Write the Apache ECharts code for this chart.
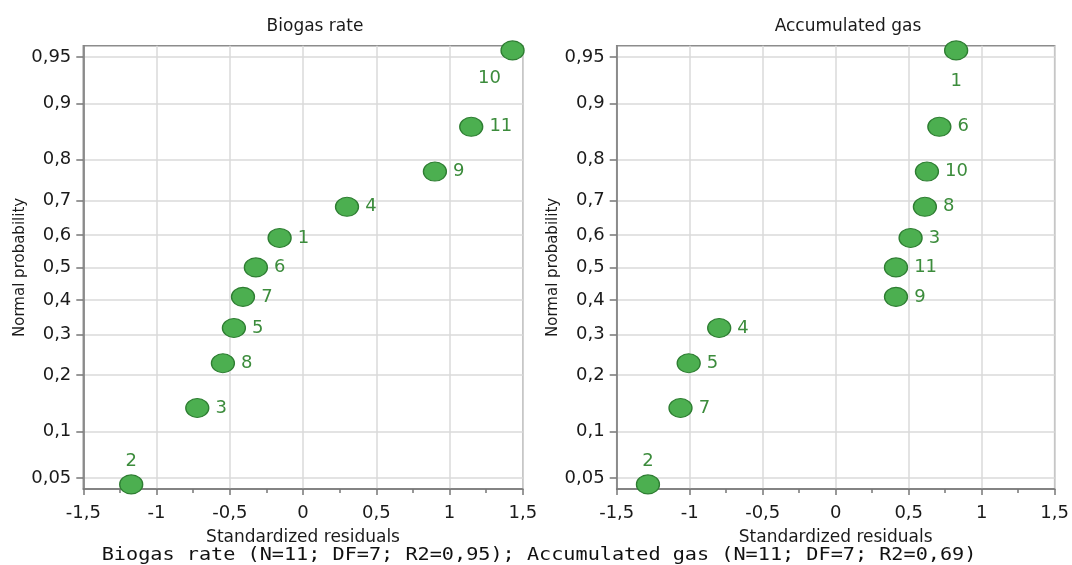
<!DOCTYPE html>
<html>
<head>
<meta charset="utf-8">
<script src="https://cdn.jsdelivr.net/npm/echarts@6/dist/echarts.min.js"></script>
<style>
html,body{margin:0;padding:0;background:#fff;}
#chart{width:1072px;height:565px;}
</style>
</head>
<body>
<div id="chart"></div>
<script>
// ---- data ----
const probs = [0.045, 0.136, 0.227, 0.318, 0.409, 0.5, 0.591, 0.682, 0.773, 0.864, 0.955];
const biogasResid = [-1.173, -0.722, -0.547, -0.472, -0.410, -0.322, -0.160, 0.300, 0.900, 1.148, 1.430];
const biogasIds = ['2', '3', '8', '5', '7', '6', '1', '4', '9', '11', '10'];
const accumResid = [-1.286, -1.063, -1.007, -0.798, 0.413, 0.413, 0.513, 0.611, 0.625, 0.710, 0.825];
const accumIds = ['2', '7', '5', '4', '9', '11', '3', '8', '10', '6', '1'];
const yTickProbs = [0.05, 0.1, 0.2, 0.3, 0.4, 0.5, 0.6, 0.7, 0.8, 0.9, 0.95];
const yTickLabels = ['0,05', '0,1', '0,2', '0,3', '0,4', '0,5', '0,6', '0,7', '0,8', '0,9', '0,95'];
const titles = ['Biogas rate', 'Accumulated gas'];
const xName = 'Standardized residuals';
const yName = 'Normal probability';
const footer = 'Biogas rate (N=11; DF=7; R2=0,95); Accumulated gas (N=11; DF=7; R2=0,69)';

// normal-probability (probit) scale transform
function probit(p) {
  const a = [-3.969683028665376e+01, 2.209460984245205e+02, -2.759285104469687e+02, 1.383577518672690e+02, -3.066479806614716e+01, 2.506628277459239e+00];
  const b = [-5.447609879822406e+01, 1.615858368580409e+02, -1.556989798598866e+02, 6.680131188771972e+01, -1.328068155288572e+01];
  const c = [-7.784894002430293e-03, -3.223964580411365e-01, -2.400758277161838e+00, -2.549671010139870e+00, 4.374664141464968e+00, 2.938163982698783e+00];
  const d = [7.784695709041462e-03, 3.224671290700398e-01, 2.445134137142996e+00, 3.754408661907416e+00];
  const plow = 0.02425, phigh = 1 - plow;
  let q, r;
  if (p < plow) {
    q = Math.sqrt(-2 * Math.log(p));
    return (((((c[0]*q+c[1])*q+c[2])*q+c[3])*q+c[4])*q+c[5]) / ((((d[0]*q+d[1])*q+d[2])*q+d[3])*q+1);
  } else if (p <= phigh) {
    q = p - 0.5; r = q * q;
    return (((((a[0]*r+a[1])*r+a[2])*r+a[3])*r+a[4])*r+a[5])*q / (((((b[0]*r+b[1])*r+b[2])*r+b[3])*r+b[4])*r+1);
  } else {
    q = Math.sqrt(-2 * Math.log(1 - p));
    return -(((((c[0]*q+c[1])*q+c[2])*q+c[3])*q+c[4])*q+c[5]) / ((((d[0]*q+d[1])*q+d[2])*q+d[3])*q+1);
  }
}

const yTickZ = yTickProbs.map(probit);
const YLIM = 1.732;
const FONT = '"DejaVu Sans", sans-serif';
const LABEL_GREEN = '#3c8c3c';
const TEXT = '#1a1a1a';

function labelFor(z) {
  let best = 0;
  for (let i = 1; i < yTickZ.length; i++) if (Math.abs(yTickZ[i] - z) < Math.abs(yTickZ[best] - z)) best = i;
  return yTickLabels[best];
}

function buildPoints(resid, ids, special) {
  return resid.map((x, i) => {
    const item = { value: [x, probit(probs[i])], name: ids[i] };
    if (special[i]) item.label = special[i];
    return item;
  });
}

const leftSpecial = {
  0: { position: 'top', distance: 4 },
  10: { position: 'bottom', distance: 9, offset: [-23, 0] }
};
const rightSpecial = {
  0: { position: 'top', distance: 4 },
  10: { position: 'bottom', distance: 12 }
};

const grids = [
  { left: 83.3, top: 45.7, width: 439.5, height: 443.4 },
  { left: 616.7, top: 45.7, width: 439.5, height: 443.4 }
];

function xAxis(idx) {
  return {
    type: 'value', gridIndex: idx, min: -1.5, max: 1.5, interval: 0.5,
    name: xName, nameLocation: 'middle', nameGap: 40,
    nameTextStyle: { fontFamily: FONT, fontSize: 17, color: TEXT },
    axisLine: { onZero: false, lineStyle: { color: '#777', width: 1.5 } },
    axisTick: { show: true, length: 6, lineStyle: { color: '#777', width: 1.5 } },
    minorTick: { show: true, splitNumber: 2, length: 4, lineStyle: { color: '#777', width: 1.5 } },
    axisLabel: { fontFamily: FONT, fontSize: 18, color: TEXT, margin: 15, showMinLabel: true, showMaxLabel: true,
      formatter: v => String(v).replace('.', ',') },
    splitLine: { show: true, lineStyle: { color: '#dadada', width: 1.5 } }
  };
}
function yAxis(idx) {
  return {
    type: 'value', gridIndex: idx, min: -YLIM, max: YLIM,
    name: yName, nameLocation: 'middle', nameGap: 56,
    nameTextStyle: { fontFamily: FONT, fontSize: 15, color: TEXT },
    axisLine: { show: true, onZero: false, lineStyle: { color: '#777', width: 1.5 } },
    axisTick: { show: true, length: 7, customValues: yTickZ, lineStyle: { color: '#777', width: 1.5 } },
    axisLabel: { fontFamily: FONT, fontSize: 18, color: TEXT, margin: 12, customValues: yTickZ,
      formatter: v => labelFor(v) },
    splitLine: { show: true, lineStyle: { color: '#dadada', width: 1.5 } }
  };
}

function scatter(idx, resid, ids, special) {
  return {
    type: 'scatter', xAxisIndex: idx, yAxisIndex: idx, clip: true, z: 3,
    symbol: 'circle', symbolSize: [23, 19],
    itemStyle: { color: '#4caf50', borderColor: '#2e7d32', borderWidth: 1.2, opacity: 1 },
    label: { show: true, position: 'right', distance: 6, formatter: '{b}',
      fontFamily: FONT, fontSize: 18, color: LABEL_GREEN },
    emphasis: { disabled: true },
    data: buildPoints(resid, ids, special)
  };
}

const chart = echarts.init(document.getElementById('chart'), null, { renderer: 'canvas' });
chart.setOption({
  backgroundColor: '#ffffff',
  animation: false,
  title: [
    { text: titles[0], left: 310, top: 13, textAlign: 'center', textStyle: { fontFamily: FONT, fontSize: 17, fontWeight: 'normal', color: TEXT } },
    { text: titles[1], left: 843, top: 13, textAlign: 'center', textStyle: { fontFamily: FONT, fontSize: 17, fontWeight: 'normal', color: TEXT } }
  ],
  grid: grids.map(g => Object.assign({ show: true, borderColor: '#8c8c8c', borderWidth: 1.5, backgroundColor: 'transparent' }, g)),
  xAxis: [xAxis(0), xAxis(1)],
  yAxis: [yAxis(0), yAxis(1)],
  series: [
    scatter(0, biogasResid, biogasIds, leftSpecial),
    scatter(1, accumResid, accumIds, rightSpecial)
  ],
  graphic: [
    { type: 'text', x: 101.7, y: 556, scaleX: 1.187, scaleY: 1,
      style: { text: footer, fontFamily: '"DejaVu Sans Mono", monospace', fontSize: 17, fill: '#111', verticalAlign: 'middle', align: 'left' } }
  ]
});
</script>
</body>
</html>
